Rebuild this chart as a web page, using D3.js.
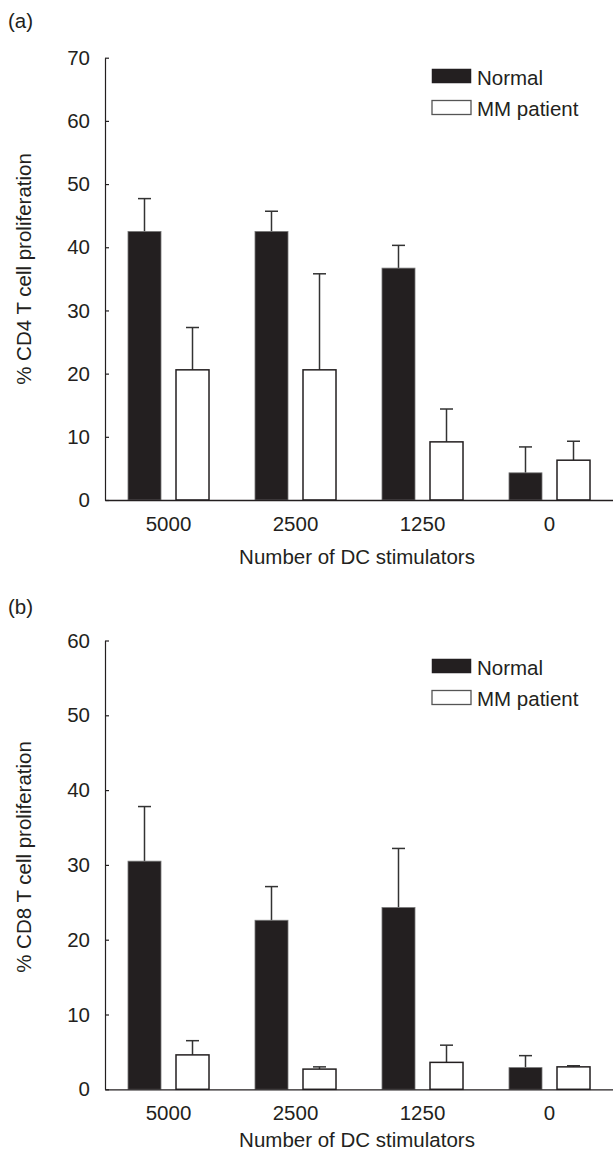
<!DOCTYPE html>
<html>
<head>
<meta charset="utf-8">
<script src="https://cdn.jsdelivr.net/npm/d3@7"></script>
<style>
  html, body { margin: 0; padding: 0; background: #fff; }
  svg { display: block; }
  text { font-family: "Liberation Sans", Arial, Helvetica, sans-serif; fill: #231f20; }
</style>
</head>
<body>
<svg id="chart" width="613" height="1153"></svg>
<script>
// ---- Data ----
const categories = ["5000", "2500", "1250", "0"];
const series = ["Normal", "MM patient"];
const xTitle = "Number of DC stimulators";

// Panel (a): % CD4 T cell proliferation
const cd4Normal    = [42.5, 42.5, 36.7, 4.3];
const cd4NormalErr = [5.2, 3.2, 3.6, 4.1];
const cd4MM        = [20.6, 20.6, 9.2, 6.3];
const cd4MMErr     = [6.7, 15.2, 5.2, 3.0];
const cd4Ticks     = [0, 10, 20, 30, 40, 50, 60, 70];

// Panel (b): % CD8 T cell proliferation
const cd8Normal    = [30.5, 22.6, 24.3, 2.9];
const cd8NormalErr = [7.3, 4.5, 7.9, 1.6];
const cd8MM        = [4.6, 2.7, 3.6, 3.0];
const cd8MMErr     = [1.9, 0.3, 2.3, 0.15];
const cd8Ticks     = [0, 10, 20, 30, 40, 50, 60];

// ---- Drawing ----
const svg = d3.select("#chart");
const ink = "#231f20";
const fontSize = 20.5;

function panel(opts) {
  const g = svg.append("g");
  const y = d3.scaleLinear().domain([0, d3.max(opts.ticks)]).range([opts.y0, opts.yTop]);
  const x0 = d3.scaleBand().domain(categories).range([105, 613]).padding(0);
  const x1 = d3.scaleBand().domain(series).range([0, x0.bandwidth()])
    .paddingInner(0.3125).paddingOuter(0.479);

  const rows = [];
  categories.forEach((c, i) => {
    rows.push({cat: c, s: series[0], v: opts.normal[i], e: opts.normalErr[i]});
    rows.push({cat: c, s: series[1], v: opts.mm[i], e: opts.mmErr[i]});
  });

  // error bars (drawn first so the bar covers the stem base)
  const eb = g.append("g").attr("stroke", "#333").attr("stroke-width", 1.5);
  rows.forEach(r => {
    const cx = x0(r.cat) + x1(r.s) + x1.bandwidth() / 2;
    eb.append("line").attr("x1", cx).attr("x2", cx).attr("y1", y(r.v)).attr("y2", y(r.v + r.e));
    eb.append("line").attr("x1", cx - 6.5).attr("x2", cx + 6.5).attr("y1", y(r.v + r.e)).attr("y2", y(r.v + r.e));
  });

  // bars
  g.append("g").selectAll("rect").data(rows).join("rect")
    .attr("x", d => x0(d.cat) + x1(d.s))
    .attr("y", d => y(d.v))
    .attr("width", x1.bandwidth())
    .attr("height", d => y(0) - y(d.v))
    .attr("fill", d => d.s === series[0] ? ink : "#fff")
    .attr("stroke", d => d.s === series[0] ? "#777" : ink)
    .attr("stroke-width", d => d.s === series[0] ? 0.8 : 1.5);

  // y axis
  const ya = g.append("g").attr("transform", "translate(105,0)")
    .call(d3.axisLeft(y).tickValues(opts.ticks).tickFormat(d3.format("d"))
      .tickSizeInner(-4).tickSizeOuter(0).tickPadding(15));
  ya.selectAll("path, line").attr("stroke", ink).attr("stroke-width", 1.2);
  ya.selectAll("text").attr("font-size", fontSize).attr("fill", ink);
  ya.attr("font-family", null);

  // x axis
  const xa = g.append("g").attr("transform", `translate(0,${opts.y0})`)
    .call(d3.axisBottom(x0).tickSize(0).tickPadding(16));
  xa.selectAll("path").attr("stroke", ink).attr("stroke-width", 1.3);
  xa.selectAll("text").attr("font-size", fontSize).attr("fill", ink);
  xa.attr("font-family", null);

  // x title
  g.append("text").attr("x", 357).attr("y", opts.xTitleY)
    .attr("text-anchor", "middle").attr("font-size", fontSize).text(xTitle);

  // y title
  g.append("text")
    .attr("transform", `translate(31,${opts.yLabelCenter}) rotate(-90)`)
    .attr("text-anchor", "middle").attr("font-size", fontSize).text(opts.yTitle);

  // panel letter
  g.append("text").attr("x", 8).attr("y", opts.letterY)
    .attr("font-size", fontSize).text(opts.letter);

  // legend
  const lg = g.append("g");
  series.forEach((s, i) => {
    const ly = opts.legendY + i * 31.5;
    lg.append("rect").attr("x", 432).attr("y", ly).attr("width", 39).attr("height", 14)
      .attr("fill", i === 0 ? ink : "#fff")
      .attr("stroke", i === 0 ? ink : "#555").attr("stroke-width", i === 0 ? 0.5 : 1.3);
    lg.append("text").attr("x", 477).attr("y", ly + 15.5)
      .attr("font-size", fontSize).text(s);
  });
}

panel({
  letter: "(a)", letterY: 28,
  y0: 500, yTop: 57.7, ticks: cd4Ticks,
  normal: cd4Normal, normalErr: cd4NormalErr, mm: cd4MM, mmErr: cd4MMErr,
  yTitle: "% CD4 T cell proliferation", yLabelCenter: 269,
  legendY: 69, xTitleY: 564
});

panel({
  letter: "(b)", letterY: 614,
  y0: 1089.3, yTop: 640.5, ticks: cd8Ticks,
  normal: cd8Normal, normalErr: cd8NormalErr, mm: cd8MM, mmErr: cd8MMErr,
  yTitle: "% CD8 T cell proliferation", yLabelCenter: 857,
  legendY: 659, xTitleY: 1147
});
</script>
</body>
</html>
